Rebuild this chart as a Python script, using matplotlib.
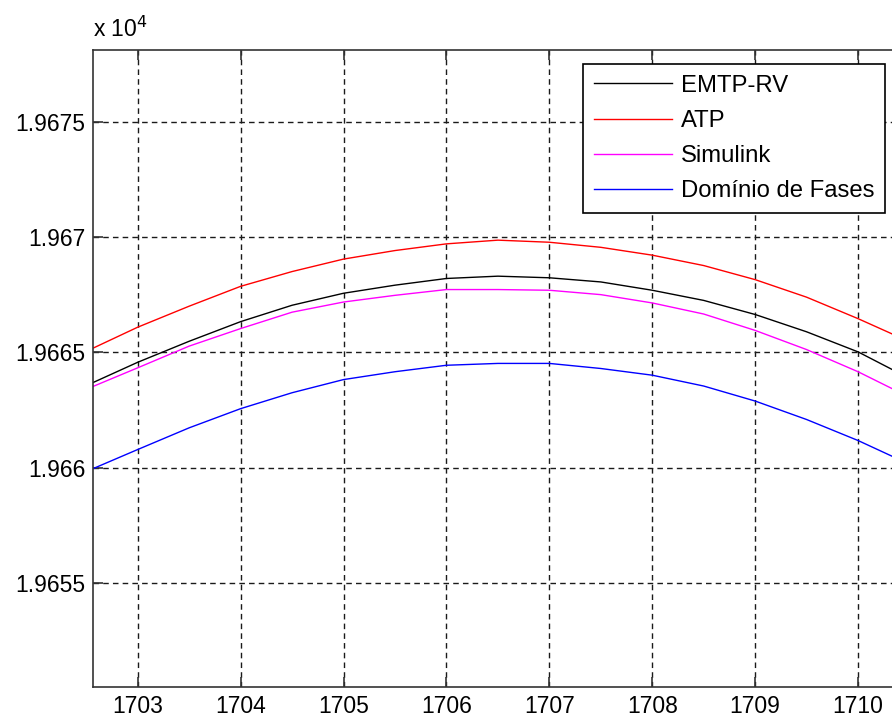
import matplotlib
matplotlib.use("Agg")
import matplotlib.pyplot as plt
from matplotlib.ticker import FixedLocator, FuncFormatter

plt.rcParams["font.family"] = ["Liberation Sans", "DejaVu Sans"]

# values (time axis, voltage in V)
x = [1702.57, 1703, 1703.5, 1704, 1704.5, 1705, 1705.5, 1706, 1706.5,
     1707, 1707.5, 1708, 1708.5, 1709, 1709.5, 1710, 1710.33]
emtp = [19663.70, 19664.57, 19665.48, 19666.33, 19667.04, 19667.56, 19667.91,
        19668.20, 19668.30, 19668.23, 19668.05, 19667.69, 19667.25, 19666.64,
        19665.89, 19665.02, 19664.26]
atp = [19665.19, 19666.09, 19667.00, 19667.86, 19668.50, 19669.04, 19669.41,
       19669.70, 19669.86, 19669.77, 19669.55, 19669.21, 19668.76, 19668.15,
       19667.39, 19666.46, 19665.80]
simulink = [19663.53, 19664.33, 19665.27, 19666.03, 19666.74, 19667.18, 19667.47,
            19667.72, 19667.72, 19667.69, 19667.50, 19667.14, 19666.66, 19665.95,
            19665.12, 19664.16, 19663.43]
fases = [19659.97, 19660.79, 19661.73, 19662.56, 19663.25, 19663.82, 19664.16,
         19664.44, 19664.52, 19664.52, 19664.30, 19664.01, 19663.54, 19662.89,
         19662.09, 19661.18, 19660.50]

labels = ["EMTP-RV", "ATP", "Simulink", "Domínio de Fases"]
colors = ["black", "#ff0000", "#ff00ff", "#0000ff"]

x_ticks = [1703, 1704, 1705, 1706, 1707, 1708, 1709, 1710]
y_ticks = [19655, 19660, 19665, 19670, 19675]

fig = plt.figure(figsize=(8.92, 7.2), dpi=100)
ax = fig.add_axes([0.1048, 0.0458, 0.8952, 0.8848])

for series, lab, col in zip([emtp, atp, simulink, fases], labels, colors):
    ax.plot(x, series, color=col, lw=1.0, label=lab)

ax.set_xlim(1702.57, 1710.33)
ax.set_ylim(19650.5, 19678.1)
ax.xaxis.set_major_locator(FixedLocator(x_ticks))
ax.yaxis.set_major_locator(FixedLocator(y_ticks))
ax.yaxis.set_major_formatter(FuncFormatter(lambda v, p: "%g" % (v / 1e4)))

ax.grid(True, color="#1a1a1a", lw=1.0, linestyle=(0, (4, 3)))
ax.set_axisbelow(True)

for side in ["left", "bottom", "top"]:
    ax.spines[side].set_color("#333333")
    ax.spines[side].set_linewidth(1.2)
ax.spines["right"].set_visible(False)

ax.tick_params(direction="in", top=True, right=False, length=7.5, width=1.2,
               color="#333333", labelsize=16.5, pad=6)

fig.text(93 / 892, 1 - 37 / 720, r"x 10$^{4}$", fontsize=16.5, va="baseline")

leg = ax.legend(loc="upper right", bbox_to_anchor=(885 / 892, 1 - 64 / 720),
                bbox_transform=fig.transFigure, fontsize=17.2, fancybox=False,
                framealpha=1, edgecolor="black", handlelength=3.3,
                handletextpad=0.35, labelspacing=0.55, borderpad=0.45,
                borderaxespad=0)
leg.get_frame().set_linewidth(1.2)

fig.savefig("out.png", dpi=100)
